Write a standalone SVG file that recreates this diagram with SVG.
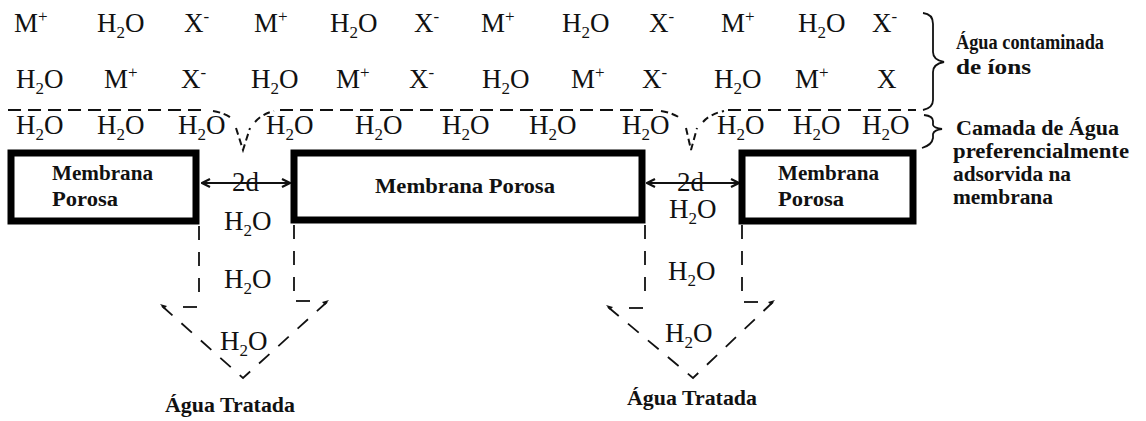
<svg xmlns="http://www.w3.org/2000/svg" width="1146" height="421" viewBox="0 0 1146 421">
<style>
.t{font-family:"Liberation Serif","Times New Roman",serif;font-size:27px;fill:#111}
.s{font-size:17px}
.b{font-family:"Liberation Serif","Times New Roman",serif;font-weight:bold;font-size:20px;fill:#111}
.box{fill:#fff;stroke:#000;stroke-width:7}
.sep{fill:none;stroke:#111;stroke-width:2;stroke-dasharray:13 7}
.dip{fill:none;stroke:#111;stroke-width:2;stroke-dasharray:7 4}
.ch{fill:none;stroke:#111;stroke-width:1.8;stroke-dasharray:14 12}
.br{fill:none;stroke:#111;stroke-width:1.8}
.dim{fill:none;stroke:#111;stroke-width:2}
</style>
<defs>
<marker id="ah" viewBox="0 0 10 10" refX="9" refY="5" markerWidth="10" markerHeight="10" markerUnits="userSpaceOnUse" orient="auto-start-reverse">
<path d="M1 1 L9 5 L1 9" fill="none" stroke="#111" stroke-width="2.2"/>
</marker>
</defs>
<rect width="1146" height="421" fill="#fff"/>

<g id="row1">
<text class="t" x="14" y="32">M<tspan class="s" dy="-10">+</tspan></text>
<text class="t" x="97" y="32">H<tspan class="s" dy="6">2</tspan><tspan dy="-6">O</tspan></text>
<text class="t" x="184" y="32">X<tspan class="s" dy="-10">-</tspan></text>
<text class="t" x="254" y="32">M<tspan class="s" dy="-10">+</tspan></text>
<text class="t" x="330" y="32">H<tspan class="s" dy="6">2</tspan><tspan dy="-6">O</tspan></text>
<text class="t" x="414" y="32">X<tspan class="s" dy="-10">-</tspan></text>
<text class="t" x="481" y="32">M<tspan class="s" dy="-10">+</tspan></text>
<text class="t" x="562" y="32">H<tspan class="s" dy="6">2</tspan><tspan dy="-6">O</tspan></text>
<text class="t" x="649" y="32">X<tspan class="s" dy="-10">-</tspan></text>
<text class="t" x="721" y="32">M<tspan class="s" dy="-10">+</tspan></text>
<text class="t" x="798" y="32">H<tspan class="s" dy="6">2</tspan><tspan dy="-6">O</tspan></text>
<text class="t" x="872" y="32">X<tspan class="s" dy="-10">-</tspan></text>
</g>

<g id="row2">
<text class="t" x="16" y="88">H<tspan class="s" dy="6">2</tspan><tspan dy="-6">O</tspan></text>
<text class="t" x="104" y="88">M<tspan class="s" dy="-10">+</tspan></text>
<text class="t" x="181" y="88">X<tspan class="s" dy="-10">-</tspan></text>
<text class="t" x="251" y="88">H<tspan class="s" dy="6">2</tspan><tspan dy="-6">O</tspan></text>
<text class="t" x="336" y="88">M<tspan class="s" dy="-10">+</tspan></text>
<text class="t" x="409" y="88">X<tspan class="s" dy="-10">-</tspan></text>
<text class="t" x="482" y="88">H<tspan class="s" dy="6">2</tspan><tspan dy="-6">O</tspan></text>
<text class="t" x="571" y="88">M<tspan class="s" dy="-10">+</tspan></text>
<text class="t" x="642" y="88">X<tspan class="s" dy="-10">-</tspan></text>
<text class="t" x="714" y="88">H<tspan class="s" dy="6">2</tspan><tspan dy="-6">O</tspan></text>
<text class="t" x="795" y="88">M<tspan class="s" dy="-10">+</tspan></text>
<text class="t" x="877" y="88">X</text>
</g>

<g id="row3">
<text class="t" x="16" y="134">H<tspan class="s" dy="6">2</tspan><tspan dy="-6">O</tspan></text>
<text class="t" x="97" y="134">H<tspan class="s" dy="6">2</tspan><tspan dy="-6">O</tspan></text>
<text class="t" x="178" y="134">H<tspan class="s" dy="6">2</tspan><tspan dy="-6">O</tspan></text>
<text class="t" x="266" y="134">H<tspan class="s" dy="6">2</tspan><tspan dy="-6">O</tspan></text>
<text class="t" x="355" y="134">H<tspan class="s" dy="6">2</tspan><tspan dy="-6">O</tspan></text>
<text class="t" x="442" y="134">H<tspan class="s" dy="6">2</tspan><tspan dy="-6">O</tspan></text>
<text class="t" x="529" y="134">H<tspan class="s" dy="6">2</tspan><tspan dy="-6">O</tspan></text>
<text class="t" x="622" y="134">H<tspan class="s" dy="6">2</tspan><tspan dy="-6">O</tspan></text>
<text class="t" x="717" y="134">H<tspan class="s" dy="6">2</tspan><tspan dy="-6">O</tspan></text>
<text class="t" x="793" y="134">H<tspan class="s" dy="6">2</tspan><tspan dy="-6">O</tspan></text>
<text class="t" x="862" y="134">H<tspan class="s" dy="6">2</tspan><tspan dy="-6">O</tspan></text>
</g>

<g id="connectors">
<path class="sep" d="M8 110 H208"/>
<path class="sep" d="M280 110 H658"/>
<path class="sep" d="M728 110 H916"/>
<path class="dip" d="M213 111 Q225 113 231 118 M236 128 L243 150 L250 128 M255 122 Q262 114 274 111"/>
<path class="dip" d="M661 111 Q673 113 680 118 M686 128 L691 150 L697 128 M703 122 Q710 114 724 111"/>
<path class="br" d="M923 13 Q933 14 933 24 V52 Q933 60 944 62 Q933 64 933 72 V100 Q933 108 923 110"/>
<path class="br" d="M924 115 Q933 116 933 121 V125 Q934 128 942 129 Q934 130 933 134 V138 Q932 145 922 148"/>
<path class="dim" d="M202 183 H290" marker-start="url(#ah)" marker-end="url(#ah)"/>
<path class="dim" d="M647 183 H739" marker-start="url(#ah)" marker-end="url(#ah)"/>
<path class="ch" d="M199 226 V300"/>
<path class="ch" d="M294 225 V302"/>
<path class="ch" d="M197 307 H173"/>
<path class="ch" d="M296 301 H320"/>
<path class="ch" d="M162 306 L243 378 L327 302"/>
<path class="ch" d="M645 225 V300"/>
<path class="ch" d="M742 225 V302"/>
<path class="ch" d="M643 308 H620"/>
<path class="ch" d="M744 302 H762"/>
<path class="ch" d="M608 307 L693 378 L773 302"/>
<path d="M160 304 L167 306 L164 309 Z" fill="#111"/>
<path d="M329 300 L322 302 L325 305 Z" fill="#111"/>
<path d="M606 305 L613 307 L610 310 Z" fill="#111"/>
<path d="M775 300 L768 302 L771 305 Z" fill="#111"/>
</g>

<g id="membrana-esq">
<rect class="box" x="11" y="153" width="185" height="68"/>
<text class="b" x="52" y="180" textLength="101" lengthAdjust="spacingAndGlyphs">Membrana</text>
<text class="b" x="52" y="206" textLength="66" lengthAdjust="spacingAndGlyphs">Porosa</text>
</g>
<g id="membrana-centro">
<rect class="box" x="294" y="153" width="348" height="67"/>
<text class="b" x="375" y="193" textLength="180" lengthAdjust="spacingAndGlyphs">Membrana Porosa</text>
</g>
<g id="membrana-dir">
<rect class="box" x="742" y="153" width="171" height="68"/>
<text class="b" x="778" y="180" textLength="101" lengthAdjust="spacingAndGlyphs">Membrana</text>
<text class="b" x="778" y="206" textLength="66" lengthAdjust="spacingAndGlyphs">Porosa</text>
</g>

<g id="canal-esq">
<text class="t" x="232" y="191" font-size="25">2d</text>
<text class="t" x="224" y="230">H<tspan class="s" dy="6">2</tspan><tspan dy="-6">O</tspan></text>
<text class="t" x="224" y="288">H<tspan class="s" dy="6">2</tspan><tspan dy="-6">O</tspan></text>
<text class="t" x="220" y="350">H<tspan class="s" dy="6">2</tspan><tspan dy="-6">O</tspan></text>
<text class="b" x="165" y="412" textLength="130" lengthAdjust="spacingAndGlyphs">Água Tratada</text>
</g>
<g id="canal-dir">
<text class="t" x="677" y="191" font-size="25">2d</text>
<text class="t" x="669" y="218">H<tspan class="s" dy="6">2</tspan><tspan dy="-6">O</tspan></text>
<text class="t" x="668" y="280">H<tspan class="s" dy="6">2</tspan><tspan dy="-6">O</tspan></text>
<text class="t" x="665" y="342">H<tspan class="s" dy="6">2</tspan><tspan dy="-6">O</tspan></text>
<text class="b" x="627" y="405" textLength="130" lengthAdjust="spacingAndGlyphs">Água Tratada</text>
</g>

<g id="legenda">
<text class="b" x="956" y="49" textLength="148" lengthAdjust="spacingAndGlyphs">Água contaminada</text>
<text class="b" x="956" y="74" textLength="75" lengthAdjust="spacingAndGlyphs">de íons</text>
<text class="b" x="956" y="135" textLength="163" lengthAdjust="spacingAndGlyphs">Camada de Água</text>
<text class="b" x="953" y="158" textLength="176" lengthAdjust="spacingAndGlyphs">preferencialmente</text>
<text class="b" x="953" y="181" textLength="118" lengthAdjust="spacingAndGlyphs">adsorvida na</text>
<text class="b" x="953" y="204" textLength="100" lengthAdjust="spacingAndGlyphs">membrana</text>
</g>
</svg>
